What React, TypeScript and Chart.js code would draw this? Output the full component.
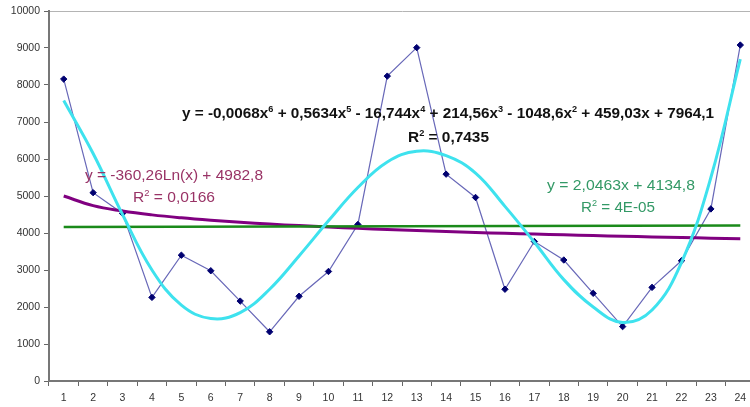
import React, { useEffect, useLayoutEffect, useRef } from "react";
import { Chart, registerables } from "chart.js";

Chart.register(...registerables);

const categories = ["1","2","3","4","5","6","7","8","9","10","11","12","13","14","15","16","17","18","19","20","21","22","23","24"];
const observed = [8160, 5090, 4530, 2260, 3400, 2980, 2160, 1330, 2290, 2960, 4230, 8240, 9010, 5590, 4960, 2480, 3770, 3270, 2370, 1470, 2530, 3250, 4650, 9080];
const polyTrend = [7580, 6150, 4500, 3000, 2050, 1690, 1850, 2480, 3380, 4330, 5230, 5920, 6210, 6090, 5620, 4720, 3750, 2740, 2000, 1580, 1920, 3200, 5500, 8700];
const logTrend = [5000, 4740, 4595, 4490, 4410, 4345, 4290, 4240, 4200, 4160, 4125, 4095, 4065, 4040, 4015, 3990, 3970, 3950, 3930, 3910, 3895, 3878, 3860, 3845];
const linearTrend: (number | null)[] = [4160, null, null, null, null, null, null, null, null, null, null, null, null, null, null, null, null, null, null, null, null, null, null, 4200];
const yMin = 0;
const yMax = 10000;
const yStep = 1000;

const FONT = 'Arial, "Liberation Sans", Helvetica, sans-serif';

function FitText(props: { x: number; w: number; cy: number; size: number; color: string; weight: number; children: React.ReactNode }) {
  const ref = useRef<HTMLDivElement>(null);
  useLayoutEffect(() => {
    const el = ref.current;
    if (!el) return;
    el.style.transform = "none";
    const nat = el.getBoundingClientRect().width;
    if (nat > 0) el.style.transform = `scaleX(${props.w / nat})`;
  }, [props.w]);
  return (
    <div
      ref={ref}
      style={{
        position: "absolute",
        left: props.x,
        top: props.cy - props.size * 0.59,
        fontFamily: FONT,
        fontSize: props.size,
        fontWeight: props.weight,
        color: props.color,
        whiteSpace: "nowrap",
        lineHeight: `${props.size * 1.2}px`,
        transformOrigin: "0 50%",
        display: "inline-block",
      }}
    >
      {props.children}
    </div>
  );
}

const supStyle: React.CSSProperties = { fontSize: "0.6em", verticalAlign: "baseline", position: "relative", top: "-0.65em", lineHeight: 0 };

export default function App() {
  const canvasRef = useRef<HTMLCanvasElement>(null);

  useEffect(() => {
    const canvas = canvasRef.current;
    if (!canvas) return;
    const chart = new Chart(canvas, {
      type: "line",
      data: {
        labels: categories,
        datasets: [
          {
            label: "data",
            data: observed,
            borderColor: "#6868b8",
            borderWidth: 1.2,
            pointStyle: "rectRot",
            pointRadius: 3.2,
            pointBackgroundColor: "#000070",
            pointBorderColor: "#000070",
            pointBorderWidth: 1,
            tension: 0,
            order: 4,
          },
          {
            label: "log",
            data: logTrend,
            borderColor: "#800080",
            borderWidth: 3,
            pointRadius: 0,
            tension: 0.4,
            order: 3,
          },
          {
            label: "linear",
            data: linearTrend,
            borderColor: "#1a8a1a",
            borderWidth: 2.5,
            pointRadius: 0,
            spanGaps: true,
            order: 2,
          },
          {
            label: "poly6",
            data: polyTrend,
            borderColor: "#3ee2ee",
            borderWidth: 3,
            pointRadius: 0,
            tension: 0.4,
            order: 1,
          },
        ],
      },
      options: {
        responsive: false,
        animation: false,
        layout: { padding: { top: 11, left: 0, right: 0, bottom: 0 } },
        plugins: { legend: { display: false }, tooltip: { enabled: false } },
        scales: {
          x: {
            type: "category",
            offset: true,
            grid: { display: true, drawOnChartArea: false, drawTicks: true, tickLength: 5, offset: true, color: "#666", tickColor: "#666" },
            border: { display: true, color: "#777", width: 2 },
            ticks: { font: { size: 10.5, family: FONT }, color: "#333", padding: 6, maxRotation: 0, autoSkip: false },
            afterFit: (s: any) => { s.height = 26; },
          },
          y: {
            min: yMin,
            max: yMax,
            grid: {
              display: true,
              drawOnChartArea: true,
              drawTicks: true,
              tickLength: 5,
              color: (c: any) => (c.tick && c.tick.value === yMax ? "#b4b4b4" : "rgba(0,0,0,0)"),
              tickColor: "#666",
            },
            border: { display: true, color: "#777", width: 2 },
            ticks: {
              stepSize: yStep,
              font: { size: 10.5, family: FONT },
              color: "#333",
              padding: 4,
              callback: (v: any) => String(v),
            },
            afterFit: (s: any) => { s.width = 49; },
          },
        },
      },
    });
    return () => chart.destroy();
  }, []);

  return (
    <div style={{ position: "absolute", left: 0, top: 0, width: 750, height: 407, overflow: "hidden", background: "#fff" }}>
      <canvas ref={canvasRef} width={760} height={407} style={{ position: "absolute", left: 0, top: 0, width: 760, height: 407 }} />
      <FitText x={182} w={532} cy={113} size={15} color="#111" weight={700}>
        y = -0,0068x<sup style={supStyle}>6</sup> + 0,5634x<sup style={supStyle}>5</sup> - 16,744x<sup style={supStyle}>4</sup> + 214,56x<sup style={supStyle}>3</sup> - 1048,6x<sup style={supStyle}>2</sup> + 459,03x + 7964,1
      </FitText>
      <FitText x={408} w={81} cy={137} size={15} color="#111" weight={700}>
        R<sup style={supStyle}>2</sup> = 0,7435
      </FitText>
      <FitText x={85} w={178} cy={175} size={15} color="#993366" weight={400}>
        y = -360,26Ln(x) + 4982,8
      </FitText>
      <FitText x={133} w={82} cy={197} size={15} color="#993366" weight={400}>
        R<sup style={supStyle}>2</sup> = 0,0166
      </FitText>
      <FitText x={547} w={148} cy={185} size={15} color="#339966" weight={400}>
        y = 2,0463x + 4134,8
      </FitText>
      <FitText x={581} w={74} cy={207} size={15} color="#339966" weight={400}>
        R<sup style={supStyle}>2</sup> = 4E-05
      </FitText>
    </div>
  );
}
